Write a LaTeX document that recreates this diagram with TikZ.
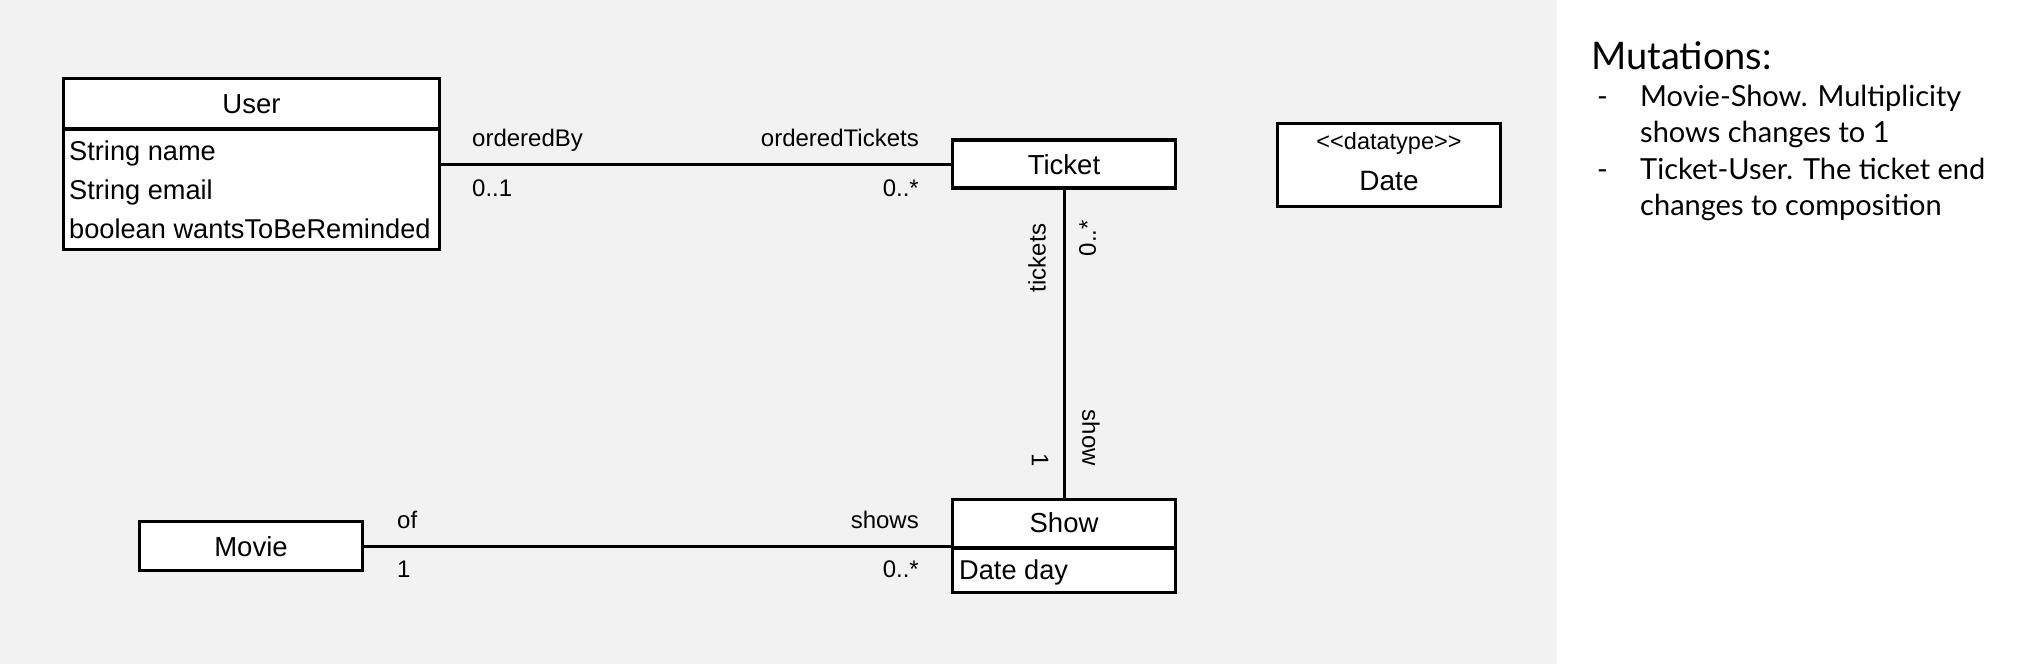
\documentclass[tikz,border=0pt]{standalone}
\usepackage{fontspec}
\setmainfont{Liberation Sans}
\newfontfamily\notefont{Lato}
\definecolor{bggrey}{HTML}{F2F2F2}
\begin{document}
\begin{tikzpicture}[x=1pt,y=-1pt,
  cls/.style={draw=black, line width=3.2pt, fill=white, inner sep=0pt, rectangle},
  divider/.style={line width=3.2pt},
  cname/.style={font=\fontsize{27.5}{32}\selectfont, inner sep=0pt, anchor=base},
  attr/.style={font=\fontsize{27.2}{31}\selectfont, inner sep=0pt, anchor=base west},
  role/.style={font=\fontsize{24}{28}\selectfont, inner sep=0pt},
  assoc/.style={line width=3pt},
  notetitle/.style={font=\notefont\fontsize{38}{44}\selectfont, inner sep=0pt, anchor=base west},
  noteitem/.style={font=\notefont\fontsize{29}{34}\selectfont, inner sep=0pt, anchor=base west}]
\useasboundingbox (0,0) rectangle (2042,664);
\fill[bggrey] (0,0) rectangle (1557,664);

% User
\node[cls, minimum width=376pt, minimum height=171pt] (user) at (251.5,164) {};
\draw[divider] (user.west |- 0,129) -- (user.east |- 0,129);
\node[cname] (userT) at (251.5,113) {User};
\node[attr] (ua1) at (69,160) {String name};
\node[attr] (ua2) at (69,199) {String email};
\node[attr] (ua3) at (69,238) {boolean wantsToBeReminded};

% Ticket
\node[cls, minimum width=223pt, minimum height=48pt] (ticket) at (1064,164) {};
\node[cname] (ticketT) at (1064,174.5) {Ticket};

% Date
\node[cls, minimum width=223pt, minimum height=83pt] (date) at (1389,165) {};
\node[role, anchor=base, font=\fontsize{23.5}{28}\selectfont] (dateS) at (1389,149) {{<}{<}datatype{>}{>}};
\node[cname, font=\fontsize{28}{33}\selectfont] (dateT) at (1389,190) {Date};

% Show
\node[cls, minimum width=223pt, minimum height=93pt] (show) at (1064,546) {};
\draw[divider] (show.west |- 0,548) -- (show.east |- 0,548);
\node[cname] (showT) at (1064,532) {Show};
\node[attr] (sa1) at (959,579) {Date day};

% Movie
\node[cls, minimum width=223pt, minimum height=49pt] (movie) at (251,546) {};
\node[cname] (movieT) at (251,556) {Movie};

% Associations
\draw[assoc] (user.east) -- (ticket.west);
\draw[assoc] (ticket.south) -- (show.north);
\draw[assoc] (movie.east) -- (show.west);

% User-Ticket labels
\node[role, anchor=base west] (l1) at (472,146) {orderedBy};
\node[role, anchor=base west] (l2) at (472,196) {0..1};
\node[role, anchor=base east] (l3) at (919,146) {orderedTickets};
\node[role, anchor=base east] (l4) at (919,196) {0..*};

% Movie-Show labels
\node[role, anchor=base west] (l5) at (397,528) {of};
\node[role, anchor=base west] (l6) at (397,577) {1};
\node[role, anchor=base east] (l7) at (919,528) {shows};
\node[role, anchor=base east] (l8) at (919,577) {0..*};

% Ticket-Show labels
\node[role, rotate=90] (l9) at (1037,258) {tickets};
\node[role, rotate=90] (l10) at (1087.5,238) {0..*};
\node[role, rotate=-90] (l11) at (1091,438) {show};
\node[role, rotate=-90] (l12) at (1040,460) {1};

% Notes
\node[notetitle] (nt) at (1591,69) {Mutations:};
\node[noteitem] (d1) at (1597,106) {-};
\node[noteitem] (n1) at (1640,106) {Movie-Show. Multiplicity};
\node[noteitem] (n2) at (1640,142) {shows changes to 1};
\node[noteitem] (d2) at (1597,179) {-};
\node[noteitem] (n3) at (1640,179) {Ticket-User. The ticket end};
\node[noteitem] (n4) at (1640,215) {changes to composition};
\end{tikzpicture}
\end{document}
